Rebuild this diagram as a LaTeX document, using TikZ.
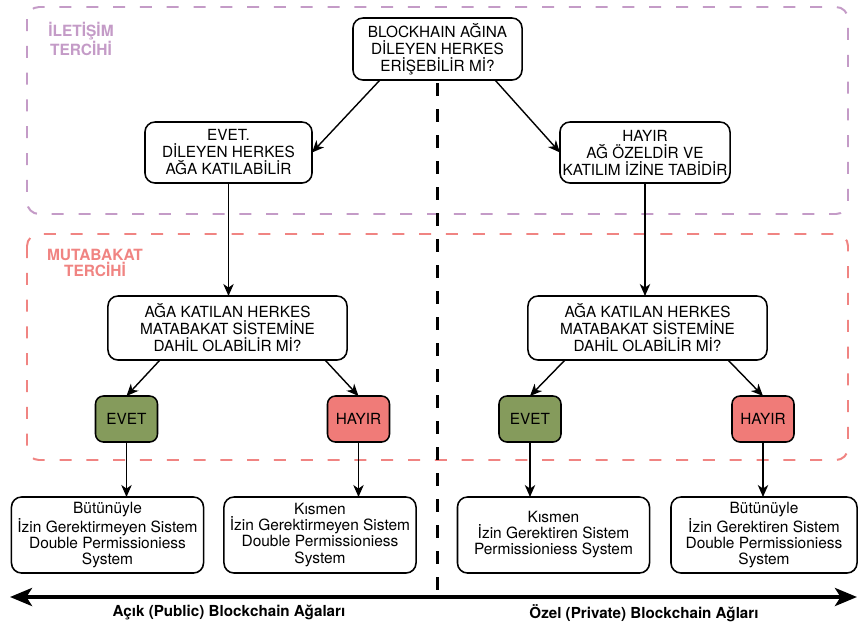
\documentclass[tikz,border=0pt]{standalone}
\usepackage{fontspec}
\setmainfont{TeX Gyre Heros}
\usetikzlibrary{arrows.meta}
\definecolor{iletcol}{HTML}{C49BC7}
\definecolor{mutcol}{HTML}{F08482}
\definecolor{evetcol}{HTML}{859B5C}
\definecolor{hayircol}{HTML}{F07B78}
\begin{document}
\begin{tikzpicture}[x=0.025cm,y=-0.025cm,inner sep=0pt,outer sep=0pt,
>={Stealth[length=0.3cm,width=0.26cm,inset=0.09cm]},
qbox/.style={draw,rectangle,rounded corners=0.25cm,line width=1.1pt,align=center,fill=white,
  font=\fontsize{10.9}{12.1}\selectfont},
rbox/.style={draw,rectangle,rounded corners=0.25cm,line width=1.1pt,align=center,fill=white,
  minimum width=4.8cm,minimum height=1.9cm,font=\fontsize{11}{11.4}\selectfont},
cbox/.style={draw,rectangle,rounded corners=0.2cm,line width=1.1pt,minimum width=1.55cm,
  minimum height=1.15cm,font=\fontsize{10.9}{12.1}\selectfont},
zone/.style={line width=1.4pt,dash pattern=on 0.3cm off 0.37cm,rounded corners=0.3cm},
zonelabel/.style={align=center,font=\bfseries\fontsize{11}{10.8}\selectfont},
link/.style={->,line width=1pt}]
\useasboundingbox (0,0) rectangle (858,627);
% tercih alanlari
\draw[zone,iletcol] (27,7) rectangle (848,214);
\draw[zone,mutcol] (27,234) rectangle (848,460);
\draw (81,39) node[zonelabel,text=iletcol] (ilet) {İLETİŞİM\\TERCİHİ};
\draw (95,263) node[zonelabel,text=mutcol] (mut) {MUTABAKAT\\TERCİHİ};
% sorular
\draw (437.5,49) node[qbox,minimum width=4.225cm,minimum height=1.55cm] (soru) {BLOCKHAIN AĞINA\\DİLEYEN HERKES\\ERİŞEBİLİR Mİ?};
\draw (228.5,152.5) node[qbox,minimum width=4.175cm,minimum height=1.525cm] (acik) {EVET.\\DİLEYEN HERKES\\AĞA KATILABİLİR};
\draw (645,152.5) node[qbox,minimum width=4.25cm,minimum height=1.525cm] (ozel) {HAYIR\\AĞ ÖZELDİR VE\\KATILIM İZİNE TABİDİR};
\draw (227.5,328) node[qbox,minimum width=5.975cm,minimum height=1.6cm] (aga1) {AĞA KATILAN HERKES\\MATABAKAT SİSTEMİNE\\DAHİL OLABİLİR Mİ?};
\draw (647.5,328) node[qbox,minimum width=5.975cm,minimum height=1.6cm] (aga2) {AĞA KATILAN HERKES\\MATABAKAT SİSTEMİNE\\DAHİL OLABİLİR Mİ?};
% cevaplar
\draw (126.5,419) node[cbox,fill=evetcol] (e1) {EVET};
\draw (358.5,419) node[cbox,fill=hayircol] (h1) {HAYIR};
\draw (530,419) node[cbox,fill=evetcol] (e2) {EVET};
\draw (763,419) node[cbox,fill=hayircol] (h2) {HAYIR};
% sonuclar
\draw (107.5,535) node[rbox] (s1) {Bütünüyle\\İzin Gerektirmeyen Sistem\\Double Permissioniess\\System};
\draw (320,535) node[rbox] (s2) {Kısmen\\İzin Gerektirmeyen Sistem\\Double Permissioniess\\System};
\draw (553.5,535) node[rbox] (s3) {Kısmen\\İzin Gerektiren Sistem\\Permissioniess System};
\draw (764,535) node[rbox,minimum width=4.65cm] (s4) {Bütünüyle\\İzin Gerektiren Sistem\\Double Permissioniess\\System};
% ayrim
\coordinate (ayrim) at (437.5,592);
\coordinate (solUc) at (10,597);
\coordinate (sagUc) at (857,597);
\draw[line width=2.8pt,dash pattern=on 0.32cm off 0.33cm] ([yshift=-0.08cm]soru.south) -- (ayrim);
\draw[line width=2.8pt,{Stealth[length=0.55cm,width=0.45cm,inset=0.14cm]}-{Stealth[length=0.55cm,width=0.45cm,inset=0.14cm]}] (solUc) -- (sagUc);
\draw (229,613) node[font=\bfseries\fontsize{10.8}{12}\selectfont] (pub) {Açık (Public) Blockchain Ağaları};
\draw (644,613) node[font=\bfseries\fontsize{10.8}{12}\selectfont] (priv) {Özel (Private) Blockchain Ağları};
% oklar
\draw[link] ([xshift=0.675cm]soru.south west) -- (acik.east);
\draw[link] ([xshift=-0.675cm]soru.south east) -- (ozel.west);
\draw[link] (acik.south) -- (acik.south |- aga1.north);
\draw[link] (ozel.south) -- (ozel.south |- aga2.north);
\draw[link] ([xshift=1.3cm]aga1.south west) -- (e1.north);
\draw[link] ([xshift=-0.55cm]aga1.south east) -- (h1.north);
\draw[link] ([xshift=0.925cm]aga2.south west) -- (e2.north);
\draw[link] ([xshift=-0.975cm]aga2.south east) -- (h2.north);
\draw[link] (e1.south) -- (e1.south |- s1.north);
\draw[link] (h1.south) -- (h1.south |- s2.north);
\draw[link] (e2.south) -- (e2.south |- s3.north);
\draw[link] (h2.south) -- (h2.south |- s4.north);
\end{tikzpicture}
\end{document}
